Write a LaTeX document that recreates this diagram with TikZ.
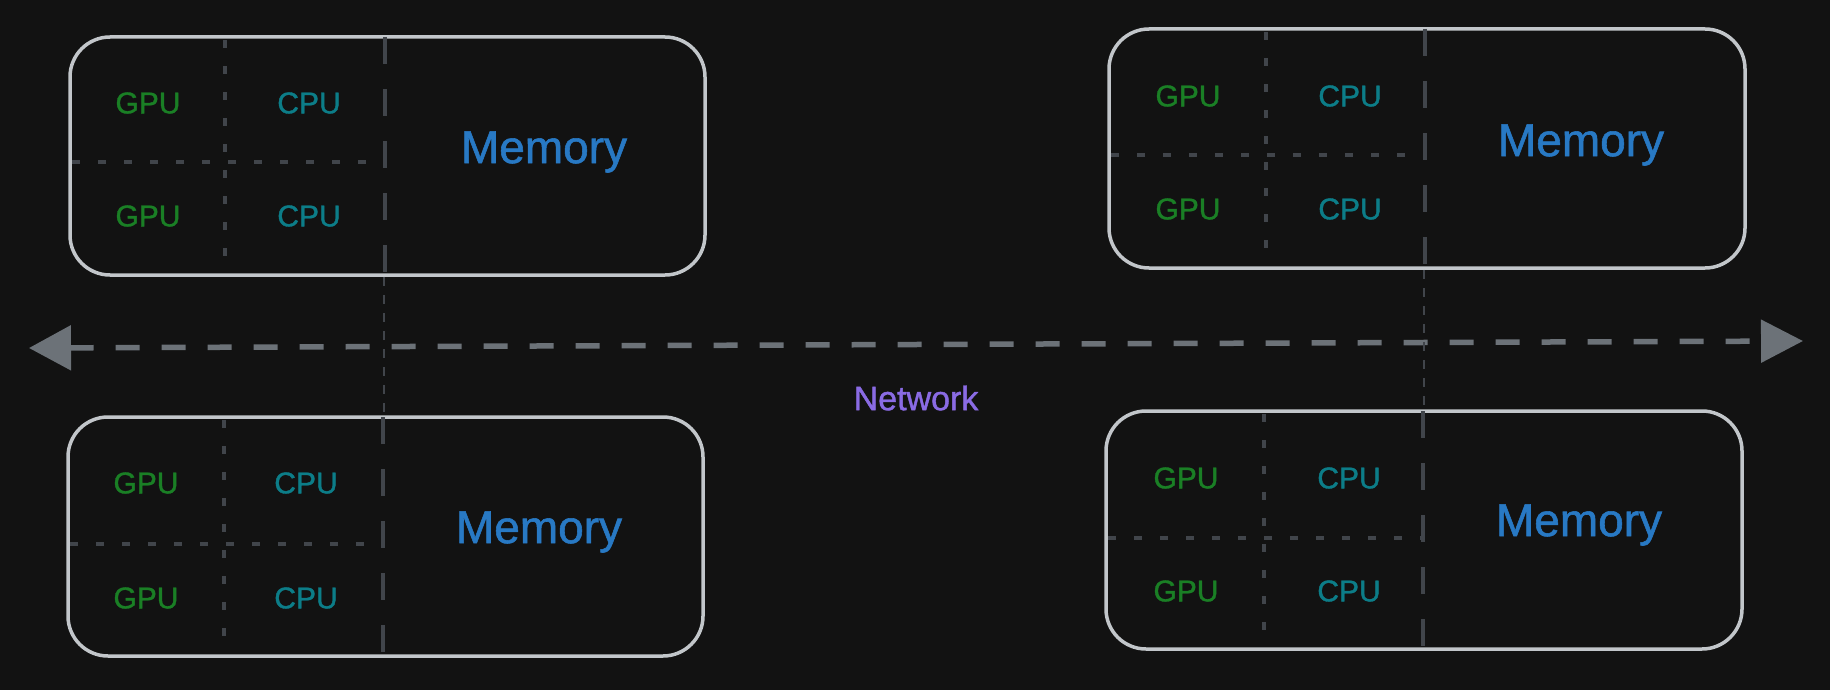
\documentclass[tikz,border=0pt]{standalone}
\usepackage{fontspec}
\setmainfont{Liberation Sans}
\newfontfamily\handfont[FakeBold=1.2]{Liberation Sans}
\usetikzlibrary{arrows.meta}

\definecolor{bgdark}{HTML}{121212}
\definecolor{boxline}{HTML}{C2C6CA}
\definecolor{cellline}{HTML}{41454B}
\definecolor{gpugreen}{HTML}{1A7F25}
\definecolor{cputeal}{HTML}{0C7D88}
\definecolor{memblue}{HTML}{2879C4}
\definecolor{netgray}{HTML}{6C7278}
\definecolor{netviolet}{HTML}{8A6BE4}

\begin{document}
\begin{tikzpicture}[x=1pt,y=-1pt,
  server/.style={draw=boxline,line width=3.5pt,rounded corners=40pt,inner sep=0pt},
  dotline/.style={draw=cellline,line width=4pt,dash pattern=on 8pt off 18pt},
  dashline/.style={draw=cellline,line width=4.5pt,dash pattern=on 27pt off 25pt},
  link/.style={draw=cellline,line width=2pt,dash pattern=on 9pt off 9pt},
  gpu/.style={text=gpugreen,font=\handfont\fontsize{30}{34}\selectfont},
  cpu/.style={text=cputeal,font=\handfont\fontsize{30}{34}\selectfont},
  mem/.style={text=memblue,font=\handfont\fontsize{46}{52}\selectfont},
  net/.style={draw=netgray,line width=5.5pt,dash pattern=on 24pt off 22pt,
    {Triangle[length=42pt,width=44pt]}-{Triangle[length=42pt,width=42pt]}}]
  \fill[bgdark] (0,0) rectangle (1830,690);
  \useasboundingbox (0,0) rectangle (1830,690);

  % network
  \coordinate (netL) at (29,348);
  \coordinate (netR) at (1803,341);
  \draw[net] (netL) -- (netR);
  \node[text=netviolet,font=\handfont\fontsize{34}{38}\selectfont] (netlabel) at (916,398) {Network};

  % server boxes
  \node[server,minimum width=635pt,minimum height=238pt] (srvA) at (387.5,156) {};
  \node[server,minimum width=635pt,minimum height=239pt] (srvC) at (385.5,536.5) {};
  \node[server,minimum width=636pt,minimum height=239pt] (srvB) at (1427,148.5) {};
  \node[server,minimum width=636pt,minimum height=238pt] (srvD) at (1424,530) {};

  % top left
  \draw[dotline] (225,40) -- (225,272);
  \draw[dashline] (385,37) -- (385,278);
  \draw[dotline] (72,162) -- (385,162);
  \node[gpu] (gpuA1) at (148,103) {GPU};
  \node[gpu] (gpuA2) at (148,216) {GPU};
  \node[cpu] (cpuA1) at (309,103) {CPU};
  \node[cpu] (cpuA2) at (309,216) {CPU};
  \node[mem] (memA) at (544,152) {Memory};

  % bottom left
  \draw[dotline] (224,420) -- (224,653);
  \draw[dashline] (383,417) -- (383,656);
  \draw[dotline] (70,544) -- (383,544);
  \node[gpu] (gpuC1) at (146,483) {GPU};
  \node[gpu] (gpuC2) at (146,598) {GPU};
  \node[cpu] (cpuC1) at (306,483) {CPU};
  \node[cpu] (cpuC2) at (306,598) {CPU};
  \node[mem] (memC) at (539,532) {Memory};

  % top right
  \draw[dotline] (1266,32) -- (1266,265);
  \draw[dashline] (1425,29) -- (1425,268);
  \draw[dotline] (1111,155) -- (1425,155);
  \node[gpu] (gpuB1) at (1188,96) {GPU};
  \node[gpu] (gpuB2) at (1188,209) {GPU};
  \node[cpu] (cpuB1) at (1350,96) {CPU};
  \node[cpu] (cpuB2) at (1350,209) {CPU};
  \node[mem] (memB) at (1581,145) {Memory};

  % bottom right
  \draw[dotline] (1264,414) -- (1264,646);
  \draw[dashline] (1423,411) -- (1423,649);
  \draw[dotline] (1108,538) -- (1423,538);
  \node[gpu] (gpuD1) at (1186,478) {GPU};
  \node[gpu] (gpuD2) at (1186,591) {GPU};
  \node[cpu] (cpuD1) at (1349,478) {CPU};
  \node[cpu] (cpuD2) at (1349,591) {CPU};
  \node[mem] (memD) at (1579,525) {Memory};

  % links to the network
  \draw[link] (srvA.south -| 384,0) -- (srvC.north -| 384,0);
  \draw[link] (srvB.south -| 1424,0) -- (srvD.north -| 1424,0);
\end{tikzpicture}
\end{document}
